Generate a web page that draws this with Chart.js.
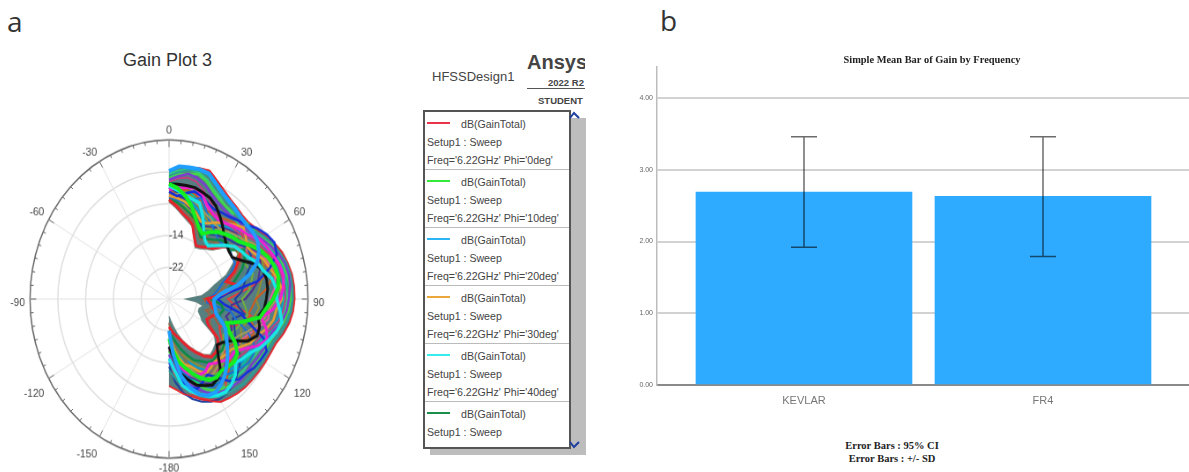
<!DOCTYPE html>
<html>
<head>
<meta charset="utf-8">
<title>Gain plots</title>
<script src="https://cdn.jsdelivr.net/npm/chart.js@4"></script>
<style>
  html, body { margin: 0; padding: 0; background: #fff; }
  body { width: 1189px; height: 472px; overflow: hidden; position: relative; font-family: "Liberation Sans", sans-serif; }
  .abs { position: absolute; white-space: nowrap; }
  canvas { position: absolute; }
  #polar { left: 0; top: 0; transform-origin: 0 0; filter: blur(0.4px); }
  #bars { left: 620px; top: 44px; }
  .letter { font-family: "Open Sans", sans-serif; font-size: 28px; color: #333; line-height: 30px; }
  #legendBox { left: 423px; top: 110px; width: 144px; height: 335px; border: 2px solid #555; background: #fff; z-index: 2; overflow: hidden; }
  #scrollBar { left: 569px; top: 118px; width: 17px; height: 337px; background: #bdbdbd; }
  #shadow { left: 430px; top: 447px; width: 155px; height: 8px; background: #bdbdbd; }
  .entry { position: absolute; left: 0; width: 144px; height: 57px; border-bottom: 1px solid #bbb; font-size: 10.6px; color: #444; }
  .entry span { position: absolute; white-space: nowrap; left: 2px; }
  .entry i { position: absolute; left: 2px; top: 10px; width: 23px; height: 2px; }
</style>
</head>
<body>

<div class="abs letter" style="left:7px;top:6px">a</div>
<div class="abs letter" style="left:660px;top:5px">b</div>
<div class="abs" style="left:123px;top:50px;font-size:18px;color:#333">Gain Plot 3</div>

<canvas id="polar" width="360" height="360"></canvas>

<div class="abs" style="left:432px;top:69px;font-size:13px;color:#444">HFSSDesign1</div>
<div class="abs" style="left:527px;top:51px;width:58px;overflow:hidden;font-size:20px;font-weight:bold;color:#444">Ansys</div>
<div class="abs" style="left:548px;top:77px;width:37px;overflow:hidden;font-size:9.5px;font-weight:bold;color:#444">2022 R2</div>
<div class="abs" style="left:527px;top:88px;width:58px;height:1px;background:#555"></div>
<div class="abs" style="left:538px;top:95px;width:47px;overflow:hidden;font-size:9.5px;font-weight:bold;color:#444">STUDENT</div>
<div class="abs" id="scrollBar"></div>
<div class="abs" id="shadow"></div>
<div class="abs" id="legendBox"></div>
<svg class="abs" style="left:569px;top:111px;z-index:3" width="12" height="8"><polyline points="1,7 5,2 10,7" fill="none" stroke="#1f3fa0" stroke-width="2"/></svg>
<svg class="abs" style="left:569px;top:441px;z-index:3" width="12" height="8"><polyline points="1,1 5,6 10,1" fill="none" stroke="#1f3fa0" stroke-width="2"/></svg>

<canvas id="bars" width="624" height="371"></canvas>

<div class="abs" style="left:792px;top:439px;width:200px;text-align:center;font-family:'Liberation Serif',serif;font-weight:bold;font-size:10.5px;line-height:13px;color:#222">Error Bars : 95% CI<br>Error Bars : +/- SD</div>

<script>
// ---- polar plot data (dB), theta = 0..180 in 5 deg steps
const angleLabels = [0,5,10,15,20,25,30,35,40,45,50,55,60,65,70,75,80,85,90,95,100,105,110,115,120,125,130,135,140,145,150,155,160,165,170,175,
  -180,-175,-170,-165,-160,-155,-150,-145,-140,-135,-130,-125,-120,-115,-110,-105,-100,-95,-90,-85,-80,-75,-70,-65,-60,-55,-50,-45,-40,-35,-30,-25,-20,-15,-10,-5];

const outerEdge = [2.4,3.4,3.8,4.2,4.5,3.0,1.8,0.9,0.4,0.0,0.1,1.0,2.4,3.6,4.8,5.5,6.1,6.3,6.3,6.0,5.3,4.2,2.9,2.4,2.1,1.8,1.6,1.4,1.0,0.5,0.0,-1.5,-3.0,-4.5,-5.6,-7,-8];
const innerEdge = [-5.5,-7,-8.5,-9.6,-10.5,-13,-15,-14.5,-13.5,-12.5,-10,-7.5,-6.8,-10,-12.5,-16.5,-18.5,-20.5,-25,-22,-20,-21,-21,-20,-19,-14,-12.5,-12,-11.6,-13,-15,-17,-19,-21,-23,-24.5,-25.6];

const phi0 = [2.2,3.2,3.6,4.0,4.3,2.8,1.6,0.7,0.2,-0.2,-0.1,0.7,2.1,3.3,4.5,5.2,5.8,6.1,6.1,5.8,5.1,4.0,2.7,2.2,1.9,1.6,1.4,1.2,0.8,0.3,-0.2,-1.7,-3.2,-4.7,-5.8,-7.2,-8.2];
const phi10 = [-1,-2,-3.5,-5.5,-8,-10,-11,-9.5,-8,-7,-6,-5,-3,-1,0.5,1.5,2,1.5,0,-2,-3.4,-8,-12.3,-11,-8,-6,-5.5,-6,-6.5,-6,-6.5,-8,-10,-12,-14,-17,-20];
const phi20 = [2.2,3.5,3.6,3.8,3.6,2.0,0.8,0.1,-0.4,-0.8,-0.9,-0.6,-0.6,-1.5,-3,-6,-10,-15,-17,-17,-16.5,-16,-14,-12,-11,-9.5,-8,-6.5,-5,-3.8,-3,-3.2,-4.5,-7,-10.5,-16,-22];
const phi30 = [-4,-4.5,-5,-6,-7,-8.5,-8,-6.5,-5,-3.5,-2,-3,-4,-3,-1,0,1.5,2.5,2.5,1,0.5,-1,-3,-4,-6,-8,-8.5,-9,-9.5,-9,-8.5,-10,-12,-13,-15,-18,-20];
const phi40 = [-1.5,-2.5,-3.5,-4,-4.3,-7,-10,-12,-12.5,-11,-9,-7,-6,-5,-3,-2,0,1,1,2,3,2,0.5,-1,-3,-4,-5,-3,-2,-1.5,-2,-3,-4.5,-6,-8,-12,-15];
const phi50 = [-5,-5.5,-6.5,-7.5,-8.5,-10,-12,-11.5,-10.5,-9,-8,-8.5,-5,-6,-7.5,-10,-12,-14,-18,-15,-14,-15,-14,-12,-11,-10.5,-10,-10.5,-10,-10.5,-12,-13,-15,-17,-19,-20.5,-22];
const phi60 = [-3,-4,-3,-2,-2.5,-3.5,-4,-3.5,-3,-2,-1,1,2.5,3.5,3,0,-4,-13,-16,-14,-9,-6,-1,1,0.5,0,-1,-1.5,-3,-6,-8,-7,-6,-7,-9,-12,-14];
const phi70 = [-2.5,-2,-1.5,-1,-2,-4,-5,-5.5,-5,-4,-3,-2,0,1,2,3,3.5,3,2,0,-3,-1,0,-2,-5,-7,-7,-8,-9,-10,-9,-9,-10,-11,-13,-15,-18];
const phi80 = [-1,-1,-1,-1,-1.5,-2,-3,-4.5,-6,-7.5,-8.5,-9,-9,-7,-4,-2,-1.5,-1.5,-2,-2.5,-4,-3,-3,-5,-9,-11,-12,-10,-7,-5.5,-5,-6,-7,-9,-11,-15,-18];
const phi90 = [-5,-6.5,-8,-9,-10.2,-12.8,-14.5,-14,-13,-12,-9.5,-7,-6.3,-8,-10,-13,-10,-14,-19,-18,-17,-16,-17,-18,-17,-13,-11.5,-11,-11,-12.5,-14.5,-16.5,-18.5,-20,-21,-22,-23];
const phi100 = [0,1,2,1.5,0.5,-1,-2,-2.5,-2.5,-2,-2,-1,0.5,2,3.5,4.5,5,5,4.5,4,3,1,0,0,-0.5,-1,-1,-1,-1.5,-2,-2.5,-4,-6,-8,-10,-13,-16];
const phi110 = [-3.5,-3.5,-3,-4,-5,-6,-6.5,-7,-7,-6,-5,-4,-2,-1,0,1,2,2,1,-1,-2,-4,-6,-8,-9,-10,-9.5,-9,-8,-7.5,-7,-8.5,-11,-13,-15,-19,-21];
const phi120 = [1,2,3,3.5,3,1.5,0.2,-0.5,-1,-1.5,-1.2,-0.2,1.5,3,4,5,5.5,5.7,5.6,5.2,4.3,3,1.8,1.3,1,0.7,0.4,0.2,-0.4,-1,-1.5,-2.8,-4,-6,-8,-10,-12];
const phi130 = [0.5,1.5,2,2.5,1.5,0,-1,-1.5,-1.5,-1,-0.5,0,1,2.5,3.5,4,4.5,5,5,4.5,3.5,2,1,0.5,0,-0.5,-1,-1.5,-2,-2.5,-3.5,-5,-7.5,-9,-11,-14,-17];
const phi140 = [-4.5,-5,-5.5,-4,-3,-5,-7,-8,-9,-9.5,-9,-8.5,-9,-9,-11,-14,-15.5,-17,-19,-19,-12,-10,-6,-3,-2,-2,-3,-4,-5,-4.5,-4.5,-5,-7,-10,-12,-16,-18];
const phi150 = [-5.5,-6,-7,-8,-9.5,-11,-12.5,-12,-11,-10,-8.5,-6.5,-6,-7,-9,-11.5,-14,-15,-17,-18,-18,-18,-18,-17,-16,-12.5,-11,-10,-9,-8,-8.5,-9.5,-12,-15,-17,-20,-24];
const phi160 = [-0.5,0.5,1,0.5,-1,-2.5,-4,-5,-5,-4.5,-4,-3,-1,0,1.5,2.5,3,3.5,3.5,3,2,0,-2,-3,-4,-5,-5.5,-6,-7,-7.5,-7.5,-8.5,-10,-11.5,-13,-16,-19];
const phi170 = [-2,-3,-4.5,-6,-7,-9,-10,-10,-9,-8,-7,-6,-4,-4,-5,-7,-8,-9,-11,-10,-8,-11,-10,-9,-7,-5,-3.5,-2.5,-1.5,-1,-1,-1.5,-2.5,-4,-6,-9,-13];
const phi180 = [-4.5,-5,-6,-7,-8,-9.5,-9.5,-8.5,-7.5,-6,-5,-6,-7,-7,-6,-5,-6,-7,-9,-8,-7,-8,-9,-10,-12,-11,-10,-8,-7,-7,-7.5,-9,-11,-13,-16,-19,-22];
const phi190 = [-3,-3,-2,-2.5,-3.5,-5,-5.5,-5,-4,-3,-3,-4,-2,0,1,1.5,0,-2,-5,-6,-7,-5,-4,-6,-8,-9,-7,-5.5,-4,-3.5,-3.5,-5,-7,-8.5,-11,-14,-17];
const phi200 = [-0.5,-1,-2,-3,-3.5,-5,-6,-7,-7,-6.5,-5,-3.5,-1,1,2.5,3.5,4,4,3,3,2,1,-1,-2,-2.5,-3,-3,-3.5,-4,-4.5,-5,-6,-8,-9.5,-12,-15,-18];
const phi210 = [-2,-3.5,-5,-6.5,-7.5,-9,-9,-8,-6.5,-5.5,-4.5,-5,-3.5,-2,-2,-3,-4,-6,-8,-12,-12,-13,-11,-10,-10,-9,-8,-7,-6,-6,-5.5,-6.5,-8.5,-10,-12,-15,-17];
const phi220 = [-1,-1.5,-1,-2,-3,-4.5,-6,-7,-7.5,-7.5,-7,-6,-5,-2.5,-0.5,0.5,1,0.5,-1,-1,-1,-3,-5,-6.5,-7,-8,-8,-7,-6.5,-5.5,-5,-6.5,-8.5,-10.5,-13,-17,-20];
const phi230 = [-3,-3.5,-4.5,-5,-6,-7.5,-8,-7.5,-6,-5,-3.5,-1.5,0,0.5,1,2,3,3,3,2.5,1.5,0,-1.5,-3,-3.5,-3.5,-4,-5,-6.5,-8,-9.5,-11,-13,-14.5,-16,-18,-19];
const phi240 = [-2.5,-2,-2.5,-3.5,-5,-6.5,-7.5,-8.5,-8,-7,-6,-5,-3,-2,-1.5,-1.5,-3,-4,-5,-4,-5,-7,-8,-7,-6,-5,-6,-7,-8,-8.5,-10,-12,-14,-15.5,-17,-20,-22];
const phi250 = [-4,-5,-6,-7.5,-9,-10.5,-11,-10,-9,-8,-7,-6,-5.5,-4,-2,0,-3,-9,-13,-11,-6,-8,-10,-14,-13,-11,-9,-7,-4,-2,-1,-2,-3.5,-5.5,-8,-11,-15];
const phi260 = [1.5,2.5,3,3,2,0.5,-0.5,-1.5,-2,-2.5,-2.5,-1,0.5,1.5,2.5,3,3.5,4,4,3.5,2.5,1,-0.5,-1,-1.5,-2,-2,-2.5,-3,-3,-3.5,-4.5,-6,-8,-10,-13,-16];
const phi270 = [-3.5,-4,-5,-6,-7.5,-9,-10.5,-11,-11,-10.5,-9,-7.5,-7,-8.5,-10,-12,-14,-16,-20,-19,-17,-19,-16,-14,-13,-11,-9.5,-8.5,-8,-8,-9.5,-11,-13,-14.5,-16.5,-18.5,-21];

const polarSeries = [
  [phi20, "#1e9fff", 4], [phi10, "#12f01e", 4], [phi40, "#19e6e6", 3.5], [phi80, "#111111", 3],
  [phi90, "#e8232b", 3], [phi70, "#f020d0", 3], [phi60, "#1530d8", 2.5], [phi30, "#e8a030", 2.5],
  [phi50, "#0b8a45", 2.5], [phi100, "#7b3fd0", 2.5], [phi110, "#a89a5a", 2], [phi120, "#2aa198", 2],
  [phi130, "#42d84a", 2.5], [phi140, "#1c6fd8", 2], [phi150, "#8c6d4f", 2], [phi0, "#e8232b", 1.5],
  [phi160, "#c04080", 2], [phi170, "#2040a0", 2], [phi180, "#70b040", 2], [phi190, "#d05a20", 2],
  [phi200, "#00c8a0", 2], [phi210, "#503090", 2], [phi220, "#e060a0", 2], [phi230, "#00a0e0", 2],
  [phi240, "#909030", 2], [phi250, "#e04040", 2], [phi260, "#30d080", 2], [phi270, "#a06040", 2],
];

// ---- legend entries
const legendColors = ["#e8334a", "#35e83a", "#2bb5f5", "#eaa83a", "#35ecec", "#1a8f4a"];
const legendPhi = ["0deg", "10deg", "20deg", "30deg", "40deg"];

// ---- bar chart data
const categories = ["KEVLAR", "FR4"];
const meanGain = [2.69, 2.63];
const errHigh = [3.46, 3.46];
const errLow = [1.92, 1.79];
const gainTicks = [0, 1, 2, 3, 4];

// the curves only exist on the 0..180 side, the rest stays empty
const padded = (vals) => vals.concat(new Array(angleLabels.length - vals.length).fill(null));

const polarDatasets = polarSeries.map(([vals, color, width]) => ({
  data: padded(vals), borderColor: color, borderWidth: width, fill: false,
}));
polarDatasets.push({
  data: padded(outerEdge), borderColor: "#e8484a", borderWidth: 1,
  fill: "+1", backgroundColor: "#557f80",
});
polarDatasets.push({
  data: padded(innerEdge), borderColor: "#6d8a80", borderWidth: 1.5, fill: false,
});

// small ticks round the outer ring, longer ones every 30 deg
const ringTicks = {
  id: "ringTicks",
  afterDraw(chart) {
    const r = chart.scales.r;
    const ctx = chart.ctx;
    ctx.save();
    ctx.strokeStyle = "#666";
    ctx.lineWidth = 1;
    angleLabels.forEach((a, i) => {
      const len = a % 30 === 0 ? 7 : 3.5;
      const p1 = r.getPointPosition(i, r.drawingArea);
      const p2 = r.getPointPosition(i, r.drawingArea - len);
      ctx.beginPath();
      ctx.moveTo(p1.x, p1.y);
      ctx.lineTo(p2.x, p2.y);
      ctx.stroke();
    });
    ctx.restore();
  },
};

const polarChart = new Chart(document.getElementById("polar"), {
  type: "radar",
  data: { labels: angleLabels, datasets: polarDatasets },
  plugins: [ringTicks],
  options: {
    responsive: false,
    animation: false,
    elements: { point: { radius: 0 }, line: { tension: 0 } },
    plugins: { legend: { display: false }, tooltip: { enabled: false } },
    scales: {
      r: {
        min: -30,
        max: 10,
        ticks: {
          stepSize: 8,
          showLabelBackdrop: false,
          backdropPadding: 0,
          color: "#444",
          font: { family: "Liberation Sans", size: 11.5 },
          // leading spaces push the labels just right of the 0 deg line
          callback: (v) => ([2, -6, -14, -22].includes(v) ? "     " + v : ""),
        },
        grid: {
          circular: true,
          color: (c) => (c.tick && c.tick.value === 10 ? "#666" : "#dedede"),
          lineWidth: 1.5,
        },
        angleLines: {
          color: (c) => (angleLabels[c.index] % 30 === 0 ? "#e2e2e2" : "rgba(0,0,0,0)"),
          lineWidth: 1,
        },
        pointLabels: {
          padding: 0,
          color: "#444",
          font: { family: "Liberation Sans", size: 11.5, lineHeight: 0.7 },
          // empty first line drops the side and lower labels a little, as in the reference
          callback: (l) => {
            if (l % 30 !== 0) return "";
            return Math.abs(l) >= 90 && l !== -180 ? ["", String(l)] : String(l);
          },
        },
      },
    },
  },
});

// the reference picture is squeezed sideways: put the centre and radius where it has them
const rs = polarChart.scales.r;
const k = 139 / rs.drawingArea;
const ky = k * 1.144;
document.getElementById("polar").style.transform =
  "translate(" + (169 - rs.xCenter * k) + "px," + (299 - rs.yCenter * ky) + "px) scale(" + k + "," + ky + ")";

// legend box
const legendBox = document.getElementById("legendBox");
legendColors.forEach((col, i) => {
  const e = document.createElement("div");
  e.className = "entry";
  e.style.top = i * 58 + "px";
  if (i === 5) e.style.borderBottom = "none";
  let html = '<i style="background:' + col + '"></i>' +
    '<span style="left:36px;top:6px">dB(GainTotal)</span>' +
    '<span style="top:24px">Setup1 : Sweep</span>';
  if (i < 5) html += "<span style=\"top:42px\">Freq='6.22GHz' Phi='" + legendPhi[i] + "'</span>";
  e.innerHTML = html;
  legendBox.appendChild(e);
});

// error bars from the arrays above
const errorBars = {
  id: "errorBars",
  afterDatasetsDraw(chart) {
    const { ctx, scales: { x, y } } = chart;
    ctx.save();
    ctx.strokeStyle = "rgba(0,0,0,0.58)";
    ctx.lineWidth = 1.5;
    categories.forEach((c, i) => {
      const px = x.getPixelForValue(i);
      const hi = y.getPixelForValue(errHigh[i]);
      const lo = y.getPixelForValue(errLow[i]);
      ctx.beginPath();
      ctx.moveTo(px, hi);
      ctx.lineTo(px, lo);
      ctx.moveTo(px - 13, hi);
      ctx.lineTo(px + 13, hi);
      ctx.moveTo(px - 13, lo);
      ctx.lineTo(px + 13, lo);
      ctx.stroke();
    });
    ctx.restore();
  },
};

new Chart(document.getElementById("bars"), {
  type: "bar",
  data: {
    datasets: [{
      data: meanGain.map((v, i) => ({ x: i, y: v })),
      backgroundColor: "#2eaaff",
      barThickness: 216,
    }],
  },
  plugins: [errorBars],
  options: {
    responsive: false,
    animation: false,
    plugins: {
      legend: { display: false },
      tooltip: { enabled: false },
      title: {
        display: true,
        text: "Simple Mean Bar of Gain by Frequency",
        color: "#222",
        font: { family: "Liberation Serif", size: 10.4, weight: "bold" },
        padding: { top: 10, bottom: 0 },
      },
    },
    scales: {
      x: {
        type: "linear",
        offset: false,
        min: -0.615,
        max: 1.841,
        afterBuildTicks: (s) => { s.ticks = categories.map((c, i) => ({ value: i })); },
        afterFit: (s) => { s.height = 30; },
        grid: { display: false },
        border: { color: "#8a8a8a", width: 2 },
        ticks: {
          color: "#777",
          padding: 1,
          maxRotation: 0,
          autoSkip: false,
          font: { family: "Liberation Sans", size: 11 },
          callback: (v) => categories[v],
        },
      },
      y: {
        min: 0,
        max: 4.44,
        afterBuildTicks: (s) => { s.ticks = gainTicks.map((v) => ({ value: v })); },
        afterFit: (s) => { s.width = 37; },
        grid: { color: "#d2d2d2", lineWidth: 2, drawTicks: false },
        border: { color: "#bdbdbd", width: 1.5 },
        ticks: {
          color: "#666",
          padding: 4,
          font: { family: "Liberation Sans", size: 7 },
          callback: (v) => v.toFixed(2),
        },
      },
    },
  },
});
</script>
</body>
</html>
